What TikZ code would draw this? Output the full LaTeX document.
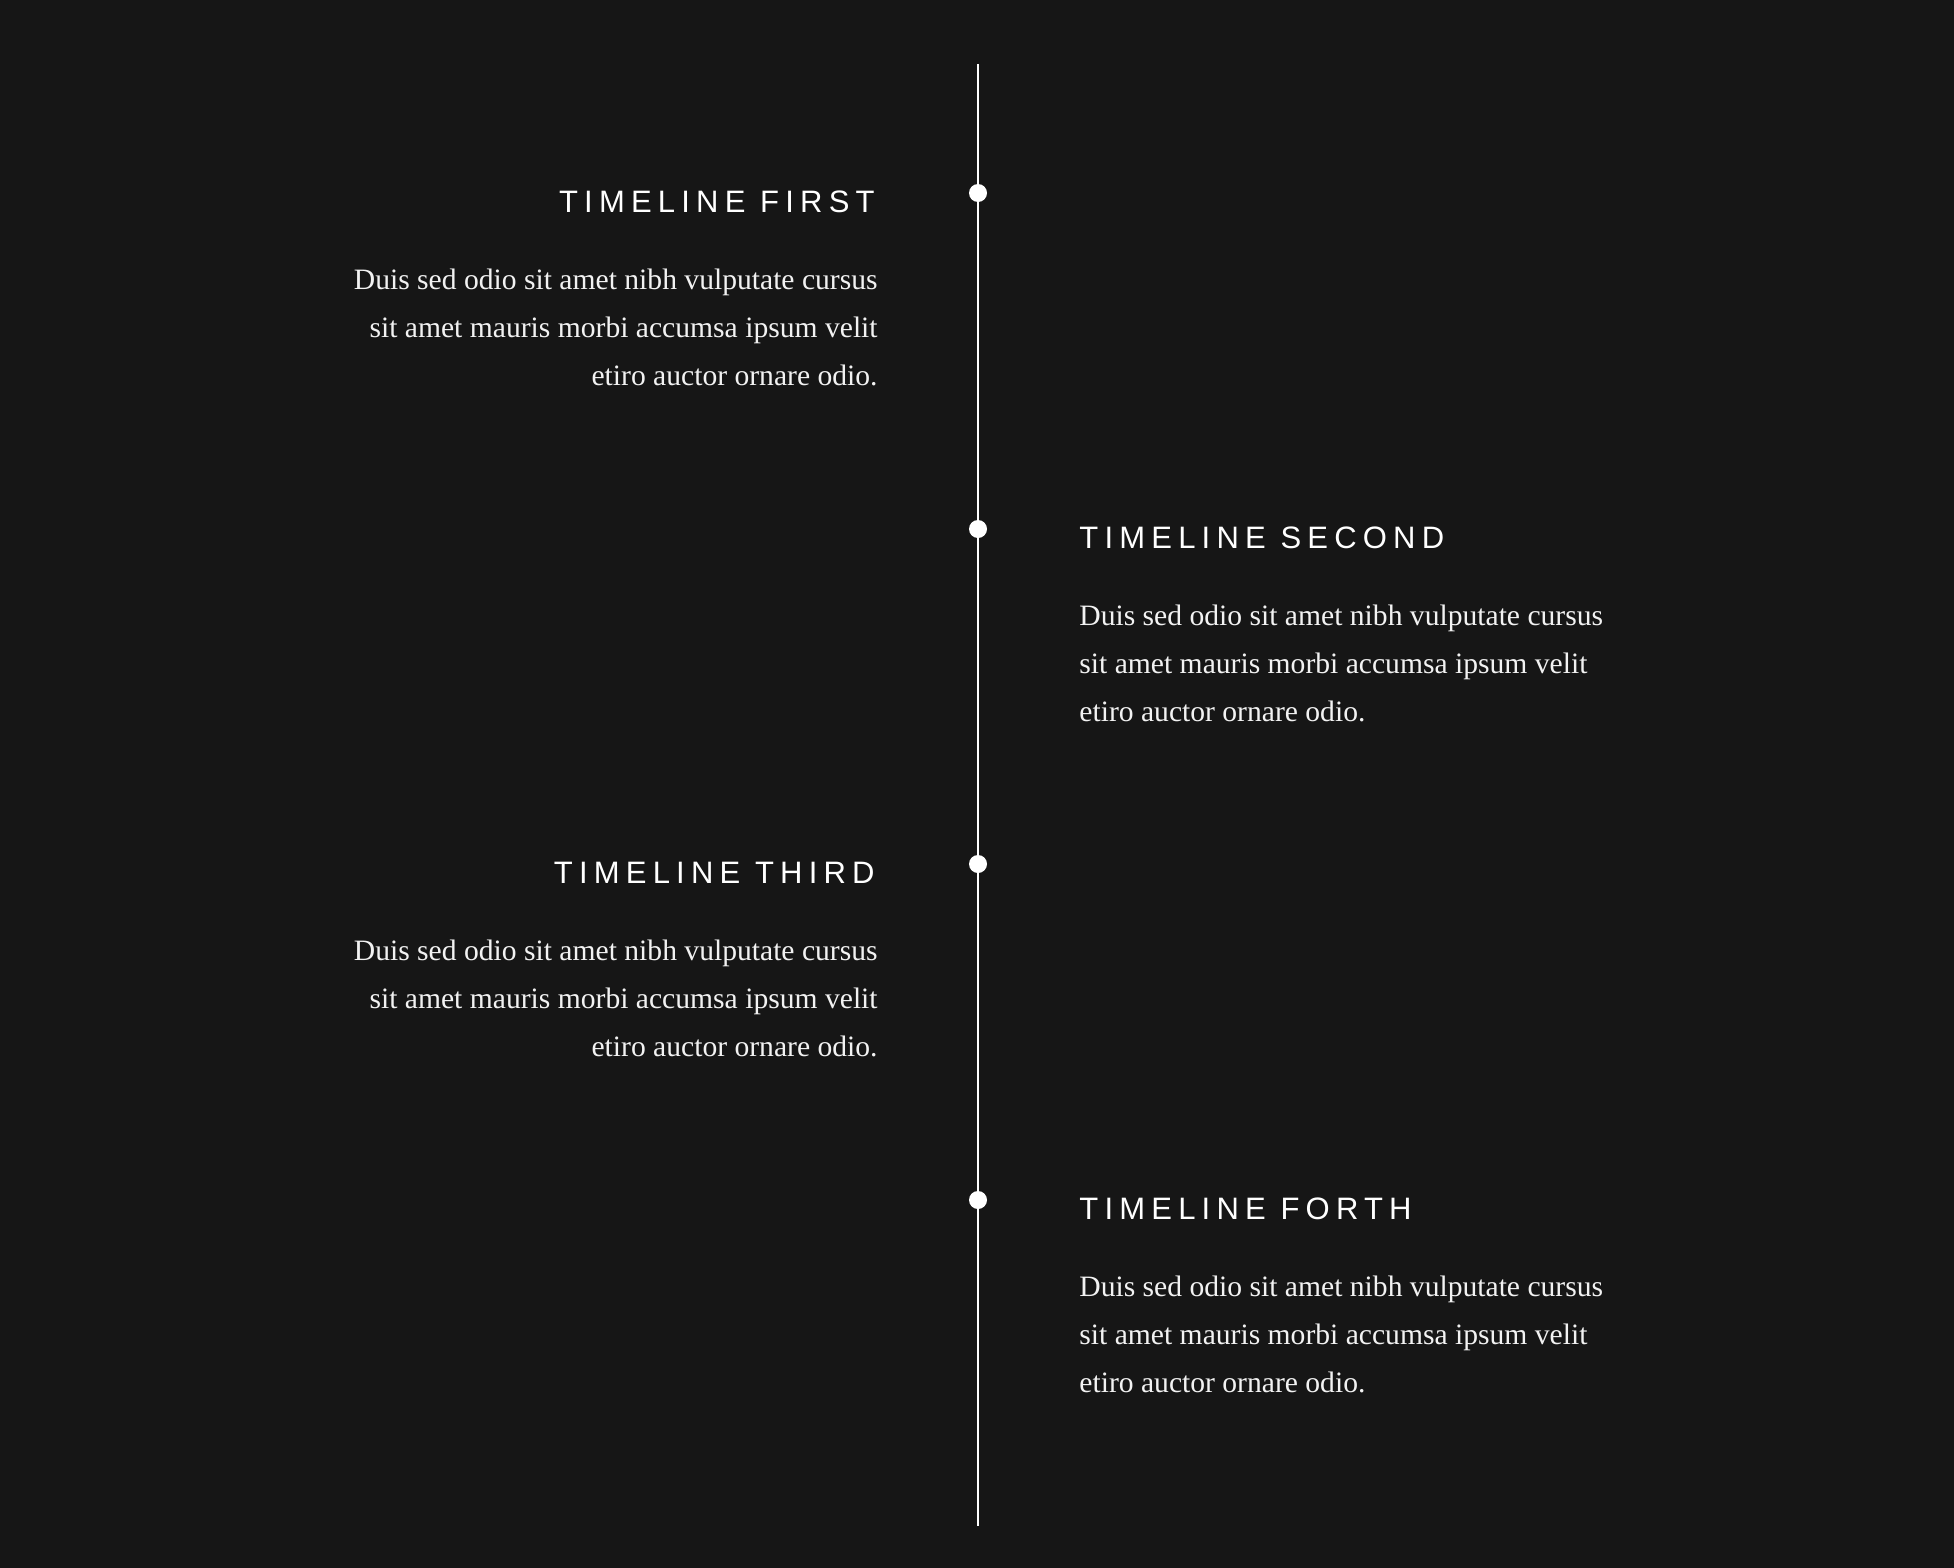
\documentclass[tikz,border=0pt]{standalone}
\usepackage{fontspec}
\setmainfont{Liberation Serif}
\newfontfamily\headfont[LetterSpace=20]{Liberation Sans}
\usetikzlibrary{positioning}
\definecolor{bgdark}{HTML}{161616}
\definecolor{inkwhite}{HTML}{F2F2F2}

\begin{document}
\begin{tikzpicture}
[x=1pt,y=-1pt,node distance=92pt]
\tikzstyle{dot}=[circle,fill=white,inner sep=0pt,minimum size=18pt]
\tikzstyle{head}=[inner sep=0pt,text=white,font=\headfont\fontsize{31}{31}\selectfont]
\tikzstyle{body}=[inner sep=0pt,text=inkwhite,font=\fontsize{29.6}{48}\selectfont]

\fill[bgdark] (0,0) rectangle (1954,1568);
\coordinate (top) at (978,64);
\coordinate (bottom) at (978,1526);
\draw[white,line width=2pt] (top) -- (bottom);

\node[dot] (d1) at (978,193) {};
\node[dot] (d2) at (978,529) {};
\node[dot] (d3) at (978,864) {};
\node[dot] (d4) at (978,1200) {};

\node[head,left=94pt of d1,anchor=base east,yshift=-19pt] (t1) {TIMELINE FIRST};
\node[head,right=of d2,anchor=base west,yshift=-19pt] (t2) {TIMELINE SECOND};
\node[head,left=94pt of d3,anchor=base east,yshift=-19pt] (t3) {TIMELINE THIRD};
\node[head,right=of d4,anchor=base west,yshift=-19pt] (t4) {TIMELINE FORTH};

\node[body,align=right,anchor=base east,xshift=3pt,yshift=-173pt] (b1) at (t1.base east)
  {Duis sed odio sit amet nibh vulputate cursus\\sit amet mauris morbi accumsa ipsum velit\\etiro auctor ornare odio.};
\node[body,align=left,anchor=base west,yshift=-173pt] (b2) at (t2.base west)
  {Duis sed odio sit amet nibh vulputate cursus\\sit amet mauris morbi accumsa ipsum velit\\etiro auctor ornare odio.};
\node[body,align=right,anchor=base east,xshift=3pt,yshift=-173pt] (b3) at (t3.base east)
  {Duis sed odio sit amet nibh vulputate cursus\\sit amet mauris morbi accumsa ipsum velit\\etiro auctor ornare odio.};
\node[body,align=left,anchor=base west,yshift=-173pt] (b4) at (t4.base west)
  {Duis sed odio sit amet nibh vulputate cursus\\sit amet mauris morbi accumsa ipsum velit\\etiro auctor ornare odio.};

\end{tikzpicture}
\end{document}
